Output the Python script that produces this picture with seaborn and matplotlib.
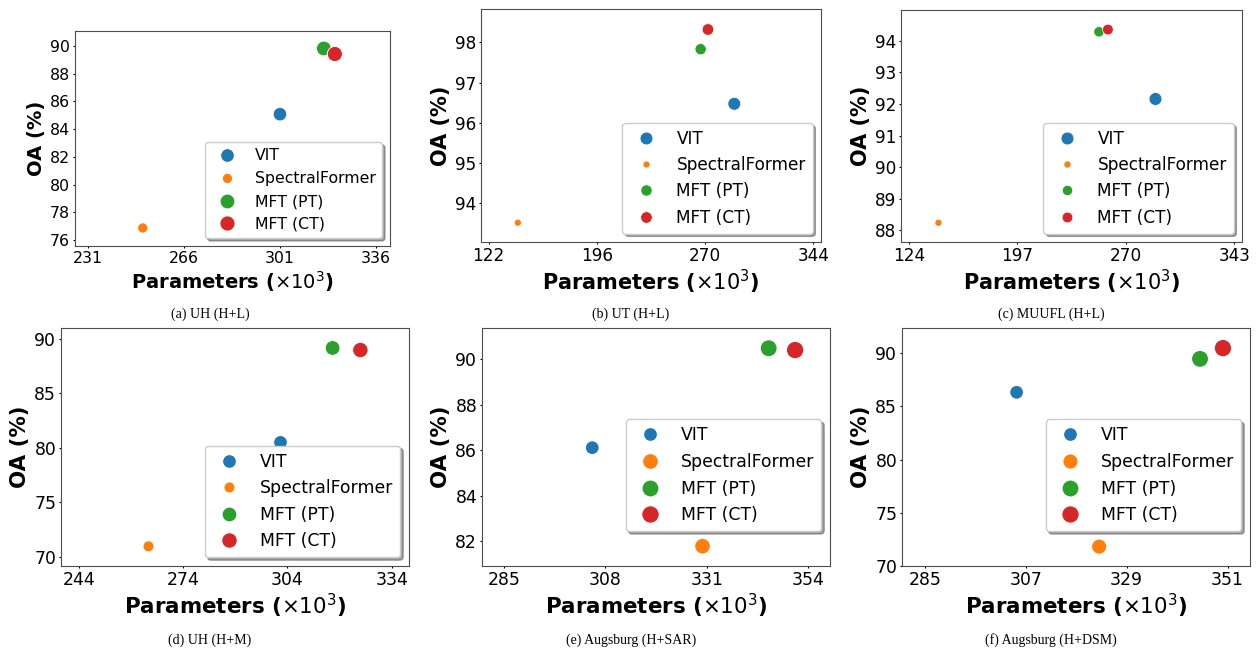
import pandas as pd
import seaborn as sns
import matplotlib.pyplot as plt
from matplotlib.colors import PowerNorm

models = ['VIT', 'SpectralFormer', 'MFT (PT)', 'MFT (CT)']

# parameters (x10^3) and OA (%) per dataset, order follows models
params_a = [301, 251, 317, 321]
oa_a = [85.08, 76.87, 89.82, 89.42]
params_b = [290, 142, 267, 272]
oa_b = [96.47, 93.51, 97.83, 98.32]
params_c = [290, 144, 252, 258]
oa_c = [92.16, 88.24, 94.29, 94.36]
params_d = [302, 264, 317, 325]
oa_d = [80.50, 70.97, 89.15, 88.96]
params_e = [305, 330, 345, 351]
oa_e = [86.11, 81.78, 90.48, 90.40]
params_f = [305, 323, 345, 350]
oa_f = [86.32, 71.82, 89.46, 90.47]

captions = ['(a) UH (H+L)', '(b) UT (H+L)', '(c) MUUFL (H+L)',
            '(d) UH (H+M)', '(e) Augsburg (H+SAR)', '(f) Augsburg (H+DSM)']

xticks_a = [231, 266, 301, 336]
xticks_b = [122, 196, 270, 344]
xticks_c = [124, 197, 270, 343]
xticks_d = [244, 274, 304, 334]
xticks_e = [285, 308, 331, 354]
xticks_f = [285, 307, 329, 351]

yticks_a = [76, 78, 80, 82, 84, 86, 88, 90]
yticks_b = [94, 95, 96, 97, 98]
yticks_c = [88, 89, 90, 91, 92, 93, 94]
yticks_d = [70, 75, 80, 85, 90]
yticks_e = [82, 84, 86, 88, 90]
yticks_f = [70, 75, 80, 85, 90]

sns.set_style('white', {'axes.edgecolor': '0.3', 'text.color': 'black',
                        'axes.labelcolor': 'black', 'xtick.color': 'black',
                        'ytick.color': 'black', 'xtick.bottom': True,
                        'ytick.left': True})
plt.rcParams['font.family'] = ['DejaVu Sans']

W, H = 1256, 650
fig = plt.figure(figsize=(W / 100, H / 100), dpi=100)

size_norm = PowerNorm(gamma=2.4, vmin=140, vmax=352)


def marker_sizes(params):
    return {m: 26 + float(size_norm(p)) * 135 for m, p in zip(models, params)}


# (params, oa, xticks, yticks, xlim, ylim, box px l,t,r,b, scale, legend anchor, caption xy)
panels = [
    (params_a, oa_a, xticks_a, yticks_a, (226.3, 341.1), (75.57, 91.08),
     (75, 31, 390, 246), 1.0, None, (210, 314)),
    (params_b, oa_b, xticks_b, yticks_b, (116.8, 349.3), (93.03, 98.83),
     (481, 9, 821, 242), 1.075, None, (631, 314)),
    (params_c, oa_c, xticks_c, yticks_c, (118.8, 348.2), (87.63, 94.98),
     (901, 10, 1242, 242), 1.075, None, (1051, 314)),
    (params_d, oa_d, xticks_d, yticks_d, (238.8, 339.0), (69.17, 90.98),
     (61, 328, 409, 566), 1.1, None, (210, 640)),
    (params_e, oa_e, xticks_e, yticks_e, (280.0, 358.9), (80.91, 91.37),
     (482, 328, 830, 566), 1.1, (1, 0.11), (631, 640)),
    (params_f, oa_f, xticks_f, yticks_f, (280.0, 355.9), (70.0, 92.36),
     (902, 328, 1250, 566), 1.1, (1, 0.11), (1051, 640)),
]

for i, (params, oa, xt, yt, xl, yl, box, k, anchor, cap) in enumerate(panels):
    l, t, r, b = box
    ax = fig.add_axes([l / W, 1 - b / H, (r - l) / W, (b - t) / H])
    df = pd.DataFrame({'Model': models, 'Params': params, 'OA': oa})
    sns.scatterplot(data=df, x='Params', y='OA', hue='Model', size='Model',
                    hue_order=models, size_order=models,
                    sizes=marker_sizes(params), ax=ax)
    ax.set_xlim(*xl)
    ax.set_ylim(*yl)
    ax.set_xticks(xt)
    ax.set_yticks(yt)
    ax.tick_params(labelsize=11.3 * k, length=1.5, width=0.8, pad=2)
    ax.set_xlabel(r'Parameters ($\times 10^3$)', fontsize=14 * k,
                  fontweight='bold', labelpad=2)
    ax.set_ylabel('OA (%)', fontsize=14 * k, fontweight='bold', labelpad=3)
    sns.move_legend(ax, 'lower right', bbox_to_anchor=anchor, title=None,
                    fontsize=11.3 * k, frameon=True, shadow=True, labelspacing=0.5)
    fig.text(cap[0] / W, 1 - cap[1] / H, captions[i], ha='center', va='center',
             family='Liberation Serif', fontsize=10)

fig.savefig('out.png', dpi=100)
